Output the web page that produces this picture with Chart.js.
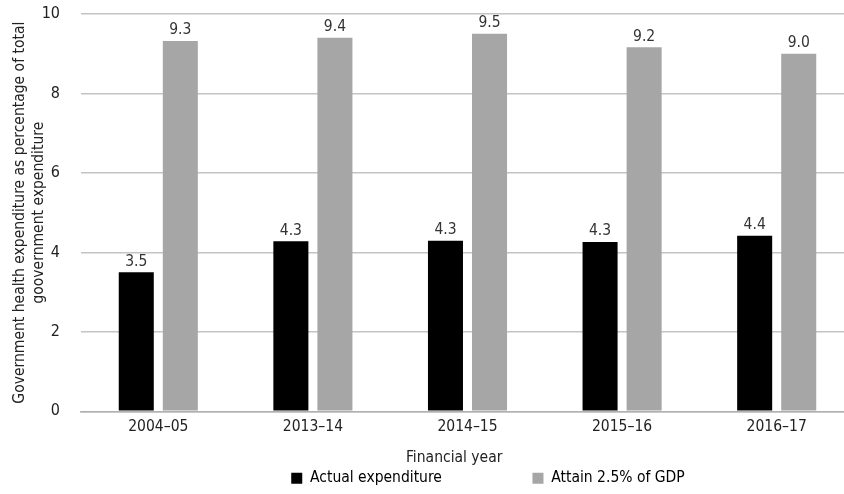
<!DOCTYPE html>
<html>
<head>
<meta charset="utf-8">
<script src="https://cdn.jsdelivr.net/npm/chart.js@4/dist/chart.umd.min.js"></script>
<style>
  html, body { margin: 0; padding: 0; background: #fff; overflow: hidden; }
  #wrap { width: 854px; height: 496px; }
</style>
</head>
<body>
<div id="wrap"><canvas id="chart" width="854" height="496"></canvas></div>
<script>
const years = ["2004\u201305", "2013\u201314", "2014\u201315", "2015\u201316", "2016\u201317"];
const actualExp = [3.5, 4.28, 4.29, 4.26, 4.42];
const attainGdp = [9.32, 9.4, 9.5, 9.16, 9.0];
const yTicks = [0, 2, 4, 6, 8, 10];

const FONT = "'Liberation Sans Narrow', 'DejaVu Sans Condensed', 'Open Sans', sans-serif";

// draws the value above each bar
const barLabels = {
  id: "barLabels",
  afterDatasetsDraw(chart) {
    const ctx = chart.ctx;
    ctx.save();
    ctx.font = "15.5px " + FONT;
    ctx.fillStyle = "#333";
    ctx.textAlign = "center";
    ctx.textBaseline = "bottom";
    chart.data.datasets.forEach((ds, i) => {
      chart.getDatasetMeta(i).data.forEach((bar, j) => {
        ctx.fillText(ds.data[j].toFixed(1), bar.x, bar.y - 3);
      });
    });
    ctx.restore();
  }
};

// nudge the legend block to the right, like the original
const legendShift = {
  id: "legendShift",
  afterLayout(chart) {
    const lg = chart.legend;
    if (!lg) return;
    lg.left += 61;
    lg.right += 61;
  }
};

new Chart(document.getElementById("chart"), {
  type: "bar",
  data: {
    labels: years,
    datasets: [
      {
        label: "Actual expenditure",
        data: actualExp,
        backgroundColor: "#000000",
        categoryPercentage: 0.57,
        barPercentage: 0.795
      },
      {
        label: "Attain 2.5% of GDP",
        data: attainGdp,
        backgroundColor: "#a6a6a6",
        categoryPercentage: 0.57,
        barPercentage: 0.795
      }
    ]
  },
  plugins: [barLabels, legendShift],
  options: {
    responsive: false,
    animation: false,
    layout: { padding: 0 },
    plugins: {
      tooltip: { enabled: false },
      legend: {
        position: "bottom",
        labels: {
          font: { family: FONT, size: 15.5 },
          color: "#222",
          boxWidth: 11,
          boxHeight: 11,
          padding: 2,
          generateLabels(chart) {
            return chart.data.datasets.map((ds, i) => ({
              text: ds.label + (i === 0 ? " ".repeat(20) : ""),
              fillStyle: ds.backgroundColor,
              strokeStyle: ds.backgroundColor,
              lineWidth: 0,
              datasetIndex: i
            }));
          }
        }
      }
    },
    scales: {
      x: {
        grid: { display: false },
        border: { display: true, color: "#b0b0b0", width: 1.5 },
        ticks: { font: { family: FONT, size: 15.5 }, color: "#222", padding: -2 },
        title: {
          display: true,
          // trailing spaces pull the centred title a little left, as in the original
          text: "Financial year" + " ".repeat(6),
          font: { family: FONT, size: 15.5 },
          color: "#222",
          padding: { top: 15, bottom: 1 }
        }
      },
      y: {
        min: 0,
        max: 10,
        afterBuildTicks(scale) { scale.ticks = yTicks.map(v => ({ value: v })); },
        afterFit(scale) {
          scale.width = 81;
          scale.paddingTop = 14;
          scale.paddingBottom = 0;
        },
        grid: { color: "#c4c4c4", lineWidth: 1.5, drawTicks: false },
        border: { display: false },
        ticks: { font: { family: FONT, size: 16 }, color: "#222", padding: 21 },
        title: {
          display: true,
          text: ["Government health expenditure as percentage of total", "goovernment expenditure"],
          font: { family: FONT, size: 15.5 },
          color: "#222",
          padding: { top: 11, bottom: 0 }
        }
      }
    }
  }
});
</script>
</body>
</html>
